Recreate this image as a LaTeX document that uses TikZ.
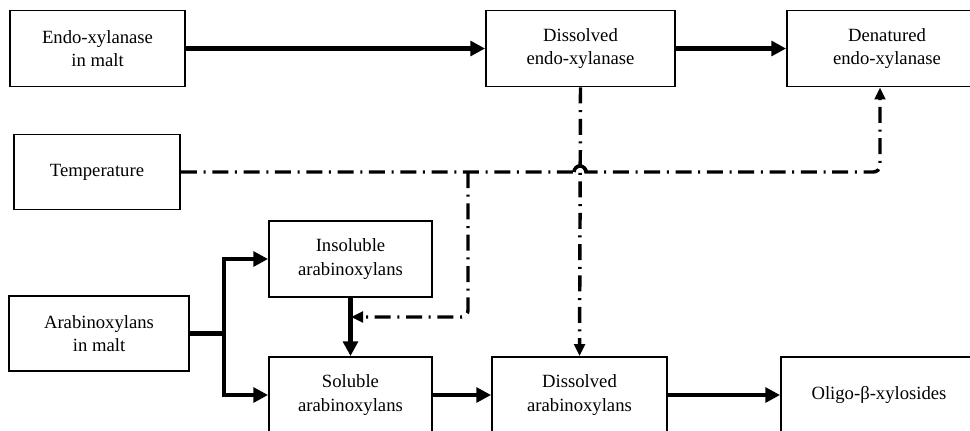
\documentclass[tikz,border=0pt]{standalone}
\usepackage{fontspec}
\setmainfont{Liberation Serif}
\usetikzlibrary{arrows.meta}

\begin{document}
\begin{tikzpicture}[x=0.75pt, y=-0.75pt,
    block/.style={draw, line width=1.4pt, minimum height=57pt, align=center, inner sep=2pt,
        font=\fontsize{14}{17.6}\selectfont},
    flow/.style={line width=3.2pt, -{Triangle[length=11pt, width=11pt]}},
    ctrl/.style={line width=2.6pt, dash pattern=on 12pt off 5pt on 1.5pt off 5pt,
        -{Triangle[length=9pt, width=8pt]}}]
    \useasboundingbox (0,0) rectangle (970,430);
    \clip (0,0) rectangle (970,430);

    % Boxes
    \node[block, minimum width=131.25pt] (endo) at (97.5,48.5) {Endo-xylanase\\in malt};
    \node[block, minimum width=141.75pt] (dissendo) at (580.5,48.5) {Dissolved\\endo-xylanase};
    \node[block, minimum width=150pt] (denat) at (887,48.5) {Denatured\\endo-xylanase};
    \node[block, minimum width=124.5pt, minimum height=56.25pt] (temp) at (97,172) {Temperature};
    \node[block, minimum width=122.25pt] (insol) at (350.5,259) {Insoluble\\arabinoxylans};
    \node[block, minimum width=135pt, minimum height=56.25pt] (arabin) at (99,333.5) {Arabinoxylans\\in malt};
    \node[block, minimum width=122.25pt] (sol) at (350.5,395) {Soluble\\arabinoxylans};
    \node[block, minimum width=131.25pt] (dissara) at (579.5,395) {Dissolved\\arabinoxylans};
    \node[block, minimum width=147pt] (oligo) at (879,395) {Oligo-β-xylosides};

    % Helper points
    \coordinate (split) at (224,333.5);
    \coordinate (tbranch) at (468,172);
    \coordinate (tturn) at (880,172);
    \coordinate (feed) at (351,317);
    \coordinate (hop) at (574,172);

    % Solid arrows
    \draw[flow] (endo) -- (dissendo);
    \draw[flow] (dissendo) -- (denat);
    \draw[flow] (arabin.east) -- (split) |- (insol.west);
    \draw[flow] (split) |- (sol.west);
    \draw[flow] (insol) -- (sol);
    \draw[flow] (sol) -- (dissara);
    \draw[flow] (dissara) -- (oligo);

    % Control lines
    \draw[ctrl] (dissendo.south) -- (dissara.north);
    \draw[ctrl] (temp.east) -- (hop) arc[start angle=180, end angle=360, radius=6]
        [rounded corners=5pt] -- (tturn) -- (tturn |- denat.south);
    \draw[line width=2.6pt] (hop) arc[start angle=180, end angle=360, radius=6];
    \draw[ctrl, rounded corners=5pt] (tbranch) |- (feed);
\end{tikzpicture}
\end{document}
